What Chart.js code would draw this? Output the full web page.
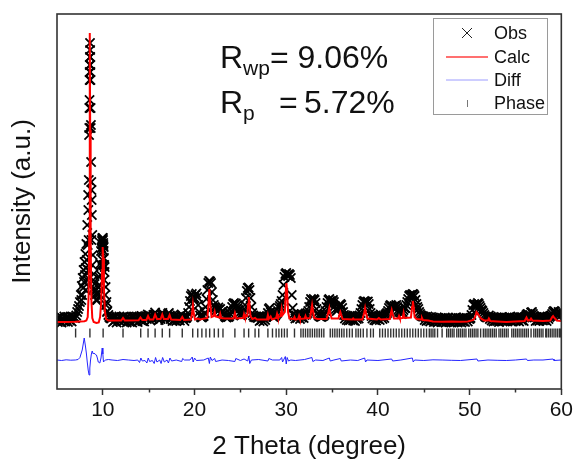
<!DOCTYPE html>
<html>
<head>
<meta charset="utf-8">
<script src="https://cdn.jsdelivr.net/npm/chart.js@4.4.0/dist/chart.umd.min.js"></script>
<style>
  html, body { margin: 0; padding: 0; background: #fff; }
</style>
</head>
<body>
<canvas id="xrdChart" width="576" height="464"></canvas>
<script>
// observed pattern, one value every 0.1 deg from 5.0 to 60.0
const obsStart = 5.0;
const obsStep = 0.1;
const obsCounts = [
  1150,800,1250,900,1300,750,1200,950,1350,850,
  1100,1300,800,1250,950,1350,850,1250,1300,1200,
  1200,1450,1800,2100,2400,2800,3500,4400,5200,6000,
  6800,7600,8600,10500,13500,19500,28700,20500,11500,7500,
  5600,4600,3900,3600,3700,4300,5300,6600,7900,8900,
  9200,8300,6300,4300,2800,1900,1500,1300,1200,1150,
  1250,800,1300,950,1350,750,1200,1000,1350,850,
  1150,1300,850,1350,1000,1250,750,1300,900,1200,
  850,1300,750,1250,1350,900,1200,1350,800,1250,
  1350,1000,1400,900,1300,850,1250,1400,1100,1550,
  1250,1450,950,1350,1100,1500,1550,1750,1400,1250,
  1400,1000,1350,1100,1500,1700,1450,1300,1000,1400,
  1350,1600,1700,1450,1100,1350,900,1300,950,1350,
  900,1300,1000,1350,950,1450,1550,1300,1200,900,
  1180,1220,1350,1700,2300,2900,3400,3600,3300,3100,
  3200,3500,3650,3300,2500,1800,1450,1300,1250,1350,
  1400,1700,2300,3100,4000,4700,4900,4850,4700,3800,
  3000,2500,2300,2200,2000,2100,2250,2050,2100,1800,
  1700,1900,1600,1400,1300,1250,1350,1300,1400,1600,
  1900,2300,2600,2700,2500,2650,2400,2200,2000,1700,
  1500,1450,1550,1800,2100,2500,3200,3900,4200,4250,
  4000,3200,2300,1700,1450,1300,1350,1250,1300,1200,
  1300,900,1350,1000,1250,850,1350,1000,1300,1400,
  1700,2100,2200,1800,1500,1400,1300,1350,1450,1600,
  1700,1900,2200,2400,2600,2900,3500,4500,5300,5600,
  5700,5500,5400,5600,5500,5200,3500,2200,1600,1400,
  1150,1450,1200,1600,1400,1100,1500,1250,1550,1200,
  1500,1650,1550,1700,1900,2300,2800,3100,3000,2900,
  3100,3000,2700,2100,1700,1500,1400,1350,1300,1350,
  1400,1450,1600,1900,2300,2700,3000,3100,2900,2700,
  2900,3000,2800,2400,2100,1900,2000,2300,2500,2600,
  2500,2200,1800,1500,1150,1450,1000,1400,950,1350,
  1000,1400,1150,950,1350,900,1300,1100,1400,1150,
  1450,1700,2100,2500,2800,2900,2850,2700,2800,2850,
  2600,2100,1700,1400,1150,1450,1000,1350,950,1300,
  1100,1400,1000,1550,1300,1100,1450,1200,1500,1600,
  1700,1900,2200,2400,2500,2400,2300,2200,2400,2350,
  2500,2300,2000,1800,1900,1750,1600,1800,2000,2200,
  2200,2500,2800,3100,3400,3500,3450,3500,3600,3550,
  3400,3000,2600,2300,2100,1800,1600,1450,1400,1350,
  1350,1000,1300,900,1350,950,1250,850,1300,1000,
  1250,800,1150,850,1250,750,1200,900,1150,800,
  1200,800,1100,1250,750,1150,850,1200,800,1100,
  750,1200,850,1150,800,1250,900,750,1200,850,
  1150,750,1200,850,1250,800,1100,1200,850,1150,
  1100,1200,1500,2000,2500,2600,2500,2300,2550,2700,
  2600,2400,2200,2000,1900,1700,1500,1350,1300,1250,
  1300,1450,1100,1350,950,1250,850,1200,900,1250,
  900,1250,800,1200,1000,1300,850,1150,1250,900,
  1200,850,1250,950,1300,900,1200,850,1150,1250,
  900,1250,1000,1350,850,1200,1300,950,1250,900,
  1250,1350,1500,1600,1550,1400,1500,1750,1800,1600,
  1400,1250,900,1300,950,1250,900,1300,1000,1350,
  950,1300,1000,1250,900,1350,1100,1300,1400,1450,
  1600,1800,1900,1850,1700,1500,1600,1800,1750,1650,
  1500
];

// extra observed points on the two strong peaks (dense region of the scan)
const obsPeakPoints = [
  [7.65,3000],[7.75,3500],[7.85,4200],[7.95,4800],[8.05,5500],[8.15,6200],[8.25,7000],
  [8.35,8500],[8.15,4000],[8.3,5000],[8.45,6000],[8.45,9000],
  [8.42,12000],[8.47,15000],[8.52,20200],[8.54,22200],[8.55,23000],[8.56,25000],
  [8.57,25800],[8.58,26500],[8.59,27300],[8.61,28000],[8.62,27300],[8.63,26500],
  [8.64,25800],[8.65,25000],[8.67,22200],[8.68,20200],[8.72,16800],[8.74,14800],
  [8.76,14000],[8.78,13000],[8.85,9500],[8.75,9000],[8.85,6500],[8.95,5000],[9.05,4200],
  [9.15,3500],[9.25,3000],[9.4,3000],[9.55,3600],[9.65,4500],[9.75,5500],[9.85,6500],
  [9.95,7000],[10.05,6500],[10.15,5000],[10.25,3500],[10.35,2500],[10.45,1800],
  [9.85,8200],[9.88,8600],[9.93,9100],[9.96,9200],[10.02,9000],[10.04,8700],
  [10.06,8500],[10.08,7900],[10.12,7200],[10.15,6500],[10.18,5800]
];

// calculated profile [2theta, counts]
const calcPoints = [
  [5,800],[6,800],[7,820],[7.5,850],[8,880],[8.2,950],[8.35,1300],[8.45,3500],[8.52,10000],
  [8.56,20000],[8.59,29700],[8.62,20000],[8.67,9000],[8.75,3000],[8.85,1200],[9.0,800],
  [9.3,700],[9.55,750],[9.7,1300],[9.82,2800],[9.92,6000],[9.98,8300],[10.05,7200],
  [10.12,4200],[10.22,1900],[10.35,1100],[10.6,950],[12.0,950],[12.2,1200],[12.4,950],
  [13.9,980],[14.1,1250],[14.3,1000],[14.75,1000],[14.93,1400],[15.1,1050],[15.5,1050],
  [15.7,1550],[15.9,1100],[16.3,1100],[16.48,1550],[16.65,1100],[17.1,1100],[17.28,1500],
  [17.45,1050],[18.45,1000],[18.66,1300],[18.85,1000],[19.6,1050],[19.72,1600],[19.82,2500],
  [19.92,1600],[20.05,1050],[20.35,1150],[20.6,1050],[21.4,1200],[21.52,2600],[21.62,4100],
  [21.72,2600],[21.85,1300],[22.1,1400],[22.2,1800],[22.3,1350],[22.7,1250],[22.8,1600],
  [22.9,1200],[23.3,1150],[24.25,1150],[24.4,1700],[24.55,1150],[25.3,1200],[25.4,1600],
  [25.5,1300],[25.75,1400],[25.85,2600],[25.92,3300],[26.0,2600],[26.1,1400],[26.3,1100],
  [26.6,1200],[26.8,1050],[27.9,1050],[28.0,1500],[28.1,1100],[28.3,1350],[28.45,1050],
  [28.9,1200],[29.0,1600],[29.1,1250],[29.4,1400],[29.5,2100],[29.6,1500],[29.85,1800],
  [29.95,3800],[30.02,4700],[30.1,3800],[30.2,1800],[30.35,1150],[30.8,1100],[30.9,1300],
  [31.0,1050],[31.3,1100],[31.4,1400],[31.5,1100],[32.0,1150],[32.1,1400],[32.2,1150],
  [32.6,1200],[32.72,1900],[32.82,2500],[32.92,1900],[33.05,1200],[33.4,1100],[34.4,1100],
  [34.6,1800],[34.7,2200],[34.8,1700],[34.95,1150],[35.7,1150],[35.82,1600],[35.9,1800],
  [36.0,1500],[36.15,1100],[37.2,1050],[37.3,1150],[37.4,1050],[38.3,1050],[38.5,1700],
  [38.6,2200],[38.7,1700],[38.85,1150],[39.9,1050],[40.1,1200],[40.3,1050],[41.3,1100],
  [41.42,1700],[41.5,2000],[41.6,1600],[41.75,1150],[42.2,1150],[42.3,1400],[42.4,1150],
  [42.7,1200],[42.8,1700],[42.9,1200],[43.6,1250],[43.72,2300],[43.8,2900],[43.9,2300],
  [44.0,1300],[44.2,1100],[44.7,1050],[44.8,1200],[44.9,1000],[45.5,950],[46,850],[47,830],
  [48,850],[49,820],[49.8,850],[50.4,1000],[50.6,1300],[50.75,1800],[50.85,1700],[51.0,1450],
  [51.3,1100],[51.6,950],[52.0,950],[52.1,1150],[52.25,900],[53,850],[54,800],[55,850],
  [56.0,900],[56.2,1250],[56.35,950],[56.6,1000],[56.7,1150],[56.85,950],[58,900],[58.8,950],
  [59.0,1300],[59.1,1400],[59.25,1200],[59.5,950],[60,900]
];

// difference curve (offset below the pattern)
const diffPoints = [
  [5,-3000],[5.5,-3050],[6,-2980],[6.5,-3020],[7,-3000],[7.3,-2950],[7.5,-2750],[7.75,-2000],
  [7.97,-800],[8.1,-1600],[8.2,-2300],[8.3,-3200],[8.4,-4000],[8.5,-4500],[8.58,-3800],
  [8.66,-3000],[8.75,-2400],[8.84,-2100],[8.95,-2400],[9.06,-2300],[9.18,-2450],[9.3,-2500],
  [9.4,-2800],[9.5,-3200],[9.67,-3300],[9.8,-2800],[9.93,-1800],[10.0,-2400],[10.07,-3200],
  [10.2,-3050],[10.3,-3000],[10.6,-2950],[11,-3000],[11.6,-3050],[12.2,-2950],[12.8,-3000],
  [13.4,-3050],[13.8,-3000],[14.0,-3250],[14.15,-2800],[14.3,-3100],[14.6,-3050],[14.8,-3300],
  [14.95,-2800],[15.1,-3150],[15.4,-3050],[15.6,-3350],[15.75,-2750],[15.9,-3200],[16.2,-3000],
  [16.35,-3350],[16.52,-2750],[16.7,-3200],[17.0,-3000],[17.15,-3300],[17.32,-2800],[17.5,-3100],
  [18.0,-3000],[18.6,-3150],[18.7,-2850],[18.9,-3000],[19.5,-3000],[19.75,-2700],[19.85,-3200],
  [20.0,-2800],[20.2,-3050],[21,-3000],[21.5,-2800],[21.62,-3350],[21.72,-2700],[21.9,-3050],
  [22.2,-2850],[22.3,-3150],[23,-3000],[23.7,-3050],[24.4,-3150],[24.5,-2850],[25,-3050],
  [25.4,-2900],[25.8,-3100],[25.92,-2600],[26.02,-3350],[26.2,-3000],[27,-2950],[28,-3100],
  [28.1,-2850],[28.5,-3000],[29.3,-3000],[29.5,-2750],[29.6,-3200],[29.9,-2650],[30.0,-3400],
  [30.1,-2750],[30.25,-3100],[30.5,-3000],[31,-3050],[32,-2950],[32.8,-2750],[32.9,-3150],
  [33.2,-3000],[34,-3050],[34.7,-2800],[34.8,-3100],[35.2,-3000],[35.9,-2850],[36,-3100],
  [37,-3000],[37.8,-3050],[38.55,-2800],[38.65,-3200],[38.8,-3000],[40,-3050],[41.5,-2900],
  [41.6,-3100],[42.5,-3000],[43.75,-2800],[43.85,-3200],[44,-3000],[45,-3050],[46,-2980],
  [47,-3000],[48,-3030],[49,-3050],[50.8,-2900],[50.9,-3100],[52,-3000],[53,-3030],[54,-3050],
  [55,-3000],[56.2,-2900],[56.3,-3050],[57,-3000],[58,-3000],[59.1,-2900],[59.2,-3050],[60,-3000]
];

// reflection positions (2theta)
const phaseTicks = [
  7.03, 8.59, 10.03, 12.2, 14.13, 14.93, 15.7, 16.48, 17.28, 18.66, 19.8, 20.35, 20.8, 21.25,
  21.65, 22.15, 22.6, 23.1, 24.4, 25.4, 25.9, 26.6, 27.0, 28.0, 28.5, 28.9, 29.2, 29.5, 29.8,
  30.1, 30.9, 31.6, 31.85, 32.1, 32.35, 32.6, 32.85, 33.1, 33.35, 33.6, 33.85, 34.1, 34.8,
  35.05, 35.3, 35.55, 35.8, 36.05, 36.3, 36.6, 36.9, 37.2, 37.6, 37.85, 38.1, 38.4, 38.8, 39.2,
  39.5, 40.2, 40.5, 40.8, 41.1, 41.4, 41.7, 42.0, 42.3, 42.6, 42.9, 43.2, 43.5, 43.8, 44.1,
  44.4, 44.7, 45.0, 45.3, 45.6, 45.8, 46.0, 46.2, 46.5, 47.0, 47.5, 47.7, 47.9, 48.1, 48.3,
  48.6, 48.8, 49.0, 49.2, 49.4, 49.6, 49.9, 50.1, 50.3, 50.5, 50.7, 50.9, 51.2, 51.5, 51.7,
  51.9, 52.1, 52.3, 52.5, 52.7, 52.9, 53.2, 53.4, 53.6, 53.8, 54.0, 54.2, 54.6, 54.8, 55.0,
  55.2, 55.4, 55.6, 55.8, 56.0, 56.2, 56.4, 56.7, 57.0, 57.2, 57.4, 57.6, 57.8, 58.0, 58.3,
  58.4, 58.6, 58.8, 59.0, 59.2, 59.4, 59.6, 59.8, 59.9
];
const phaseLevel = -300;

const majorTicks = [10, 20, 30, 40, 50, 60];
const minorTicks = [15, 25, 35, 45, 55];

const FONT = "'Liberation Sans', Arial, sans-serif";

const obsData = obsCounts.map((c, i) => ({ x: +(obsStart + i * obsStep).toFixed(2), y: c }))
  .concat(obsPeakPoints.map(p => ({ x: p[0], y: p[1] })));

// frame, minor ticks, R-factor text and the boxed legend
const decorPlugin = {
  id: "decor",
  afterDraw(chart) {
    const { ctx, chartArea: a } = chart;
    const xs = chart.scales.x;
    ctx.save();
    ctx.strokeStyle = "#333";
    ctx.lineWidth = 1.5;
    minorTicks.forEach((v) => {
      const px = Math.round(xs.getPixelForValue(v)) + 0.5;
      ctx.beginPath();
      ctx.moveTo(px, a.bottom);
      ctx.lineTo(px, a.bottom + 3.5);
      ctx.stroke();
    });
    ctx.lineWidth = 1.6;
    ctx.strokeRect(a.left, a.top, a.right - a.left, a.bottom - a.top);

    // R factors
    ctx.fillStyle = "#111";
    ctx.textBaseline = "alphabetic";
    ctx.font = "32px " + FONT;
    ctx.fillText("R", 220, 68);
    const w = ctx.measureText("R").width;
    ctx.font = "21px " + FONT;
    ctx.fillText("wp", 220 + w, 75);
    const w2 = ctx.measureText("wp").width;
    ctx.font = "32px " + FONT;
    ctx.fillText("= 9.06%", 220 + w + w2, 68);
    ctx.fillText("R", 220, 113);
    ctx.font = "21px " + FONT;
    ctx.fillText("p", 220 + w, 120);
    ctx.font = "32px " + FONT;
    ctx.fillText("=", 279, 113);
    ctx.fillText("5.72%", 304, 113);

    // legend box
    ctx.strokeStyle = "#9a9a9a";
    ctx.lineWidth = 1;
    ctx.strokeRect(433.5, 18.5, 114, 96);
    ctx.font = "18px " + FONT;
    ctx.textBaseline = "middle";
    const rows = [33, 57, 80, 103];
    ctx.strokeStyle = "#222";
    ctx.beginPath();
    ctx.moveTo(462, rows[0] - 5); ctx.lineTo(472, rows[0] + 5);
    ctx.moveTo(472, rows[0] - 5); ctx.lineTo(462, rows[0] + 5);
    ctx.stroke();
    ctx.strokeStyle = "rgba(255,0,0,0.75)";
    ctx.lineWidth = 1.5;
    ctx.beginPath(); ctx.moveTo(446, rows[1]); ctx.lineTo(488, rows[1]); ctx.stroke();
    ctx.strokeStyle = "rgba(90,90,255,0.6)";
    ctx.lineWidth = 1;
    ctx.beginPath(); ctx.moveTo(446, rows[2]); ctx.lineTo(488, rows[2]); ctx.stroke();
    ctx.strokeStyle = "#777";
    ctx.beginPath(); ctx.moveTo(467.5, rows[3] - 3); ctx.lineTo(467.5, rows[3] + 4); ctx.stroke();
    ["Obs", "Calc", "Diff", "Phase"].forEach((t, i) => ctx.fillText(t, 494, rows[i] + 1));
    ctx.restore();
  }
};

const ctx = document.getElementById("xrdChart").getContext("2d");
new Chart(ctx, {
  type: "scatter",
  data: {
    datasets: [
      {
        label: "Calc",
        data: calcPoints.map(p => ({ x: p[0], y: p[1] })),
        showLine: true,
        borderColor: "#ff0000",
        borderWidth: 2,
        pointRadius: 0,
        order: 1,
      },
      {
        label: "Diff",
        data: diffPoints.map(p => ({ x: p[0], y: p[1] })),
        showLine: true,
        borderColor: "#2424ff",
        borderWidth: 1,
        pointRadius: 0,
        order: 2,
      },
      {
        label: "Phase",
        data: phaseTicks.map(t => ({ x: t, y: phaseLevel })),
        pointStyle: "line",
        rotation: 90,
        pointRadius: 4.5,
        borderColor: "#333",
        borderWidth: 1.4,
        order: 3,
      },
      {
        label: "Obs",
        data: obsData,
        pointStyle: "crossRot",
        pointRadius: 6.5,
        borderColor: "#000",
        backgroundColor: "#000",
        borderWidth: 1.8,
        order: 4,
      },
    ],
  },
  options: {
    responsive: false,
    animation: false,
    devicePixelRatio: 1,
    layout: { padding: { top: 14, right: 13, left: 0, bottom: 0 } },
    plugins: { legend: { display: false }, tooltip: { enabled: false } },
    scales: {
      x: {
        type: "linear",
        min: 5,
        max: 60,
        afterBuildTicks: (s) => { s.ticks = majorTicks.map(v => ({ value: v })); },
        afterFit: (s) => { s.height = 75; },
        grid: { display: true, drawOnChartArea: false, drawTicks: true, tickLength: 6, tickColor: "#333", tickWidth: 1.5 },
        border: { display: false },
        ticks: { font: { family: FONT, size: 21 }, color: "#111", padding: 3, maxRotation: 0, autoSkip: false },
        title: { display: true, text: "2 Theta (degree)", font: { family: FONT, size: 26 }, color: "#111", padding: { top: 0, bottom: 2 } },
      },
      y: {
        min: -5900,
        max: 31600,
        afterFit: (s) => { s.width = 57; },
        grid: { display: false },
        border: { display: false },
        ticks: { display: false },
        title: { display: true, text: "Intensity (a.u.)", font: { family: FONT, size: 26 }, color: "#111", padding: { top: 7, bottom: 0 } },
      },
    },
  },
  plugins: [decorPlugin],
});
</script>
</body>
</html>
